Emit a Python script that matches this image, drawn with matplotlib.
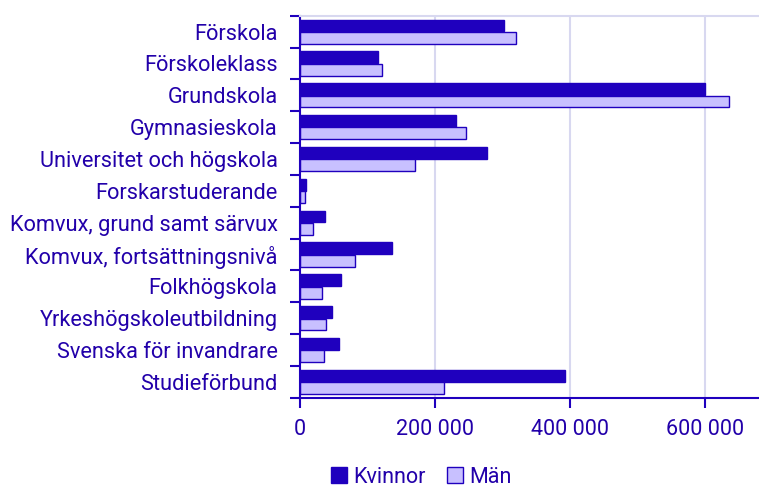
import numpy as np
import matplotlib.pyplot as plt
from matplotlib.ticker import FuncFormatter

categories = ['Förskola', 'Förskoleklass', 'Grundskola', 'Gymnasieskola',
              'Universitet och högskola', 'Forskarstuderande',
              'Komvux, grund samt särvux', 'Komvux, fortsättningsnivå',
              'Folkhögskola', 'Yrkeshögskoleutbildning',
              'Svenska för invandrare', 'Studieförbund']
kvinnor = [302700, 116500, 600000, 231000, 277000, 9300,
           37500, 137200, 60700, 47400, 58200, 392000]
man = [320500, 122400, 636000, 245400, 170400, 7900,
       19700, 82400, 33000, 39400, 36000, 212800]

dark = '#1f00be'
light = '#c8c0ff'
txt = '#2200aa'
grid = '#d8d8f0'

plt.rcParams['font.family'] = ['Roboto', 'DejaVu Sans']

fig = plt.figure(figsize=(7.59, 4.90), dpi=100)
ax = fig.add_axes([0.395, 0.188, 0.605, 0.78])

y = np.arange(len(categories))
h = 0.37
ax.barh(y - h / 2 - 0.01, kvinnor, height=h, color=dark, edgecolor=dark,
        linewidth=1, label='Kvinnor')
ax.barh(y + h / 2 + 0.01, man, height=h, color=light, edgecolor=dark,
        linewidth=1, label='Män')

ax.set_ylim(len(categories) - 0.5, -0.5)
ax.set_xlim(0, 680000)
ax.set_xticks([0, 200000, 400000, 600000])
ax.xaxis.set_major_formatter(FuncFormatter(lambda v, p: f'{int(v):,}'.replace(',', ' ')))

ax.set_yticks(y)
ax.set_yticklabels(categories)
ax.set_yticks(np.arange(len(categories) + 1) - 0.5, minor=True)
ax.tick_params(axis='y', which='major', length=0, pad=16, labelsize=15.7, labelcolor=txt)
ax.tick_params(axis='y', which='minor', length=7, width=1.5, color=dark)
ax.tick_params(axis='x', length=7, width=1.5, color=dark, labelsize=15.5,
               labelcolor=txt, pad=8)

ax.grid(axis='x', color=grid, linewidth=1.5)
ax.set_axisbelow(True)
ax.spines['right'].set_visible(False)
ax.spines['top'].set_color(grid)
ax.spines['top'].set_linewidth(1.5)
ax.spines['left'].set_color(dark)
ax.spines['left'].set_linewidth(1.5)
ax.spines['bottom'].set_color(dark)
ax.spines['bottom'].set_linewidth(1.5)

leg = fig.legend(loc='lower center', bbox_to_anchor=(0.555, -0.035), ncol=2,
                 frameon=False, fontsize=15.5, handlelength=0.75, handleheight=0.75,
                 handletextpad=0.3, columnspacing=1.0)
for t in leg.get_texts():
    t.set_color(txt)

fig.savefig('out.png', dpi=100)
